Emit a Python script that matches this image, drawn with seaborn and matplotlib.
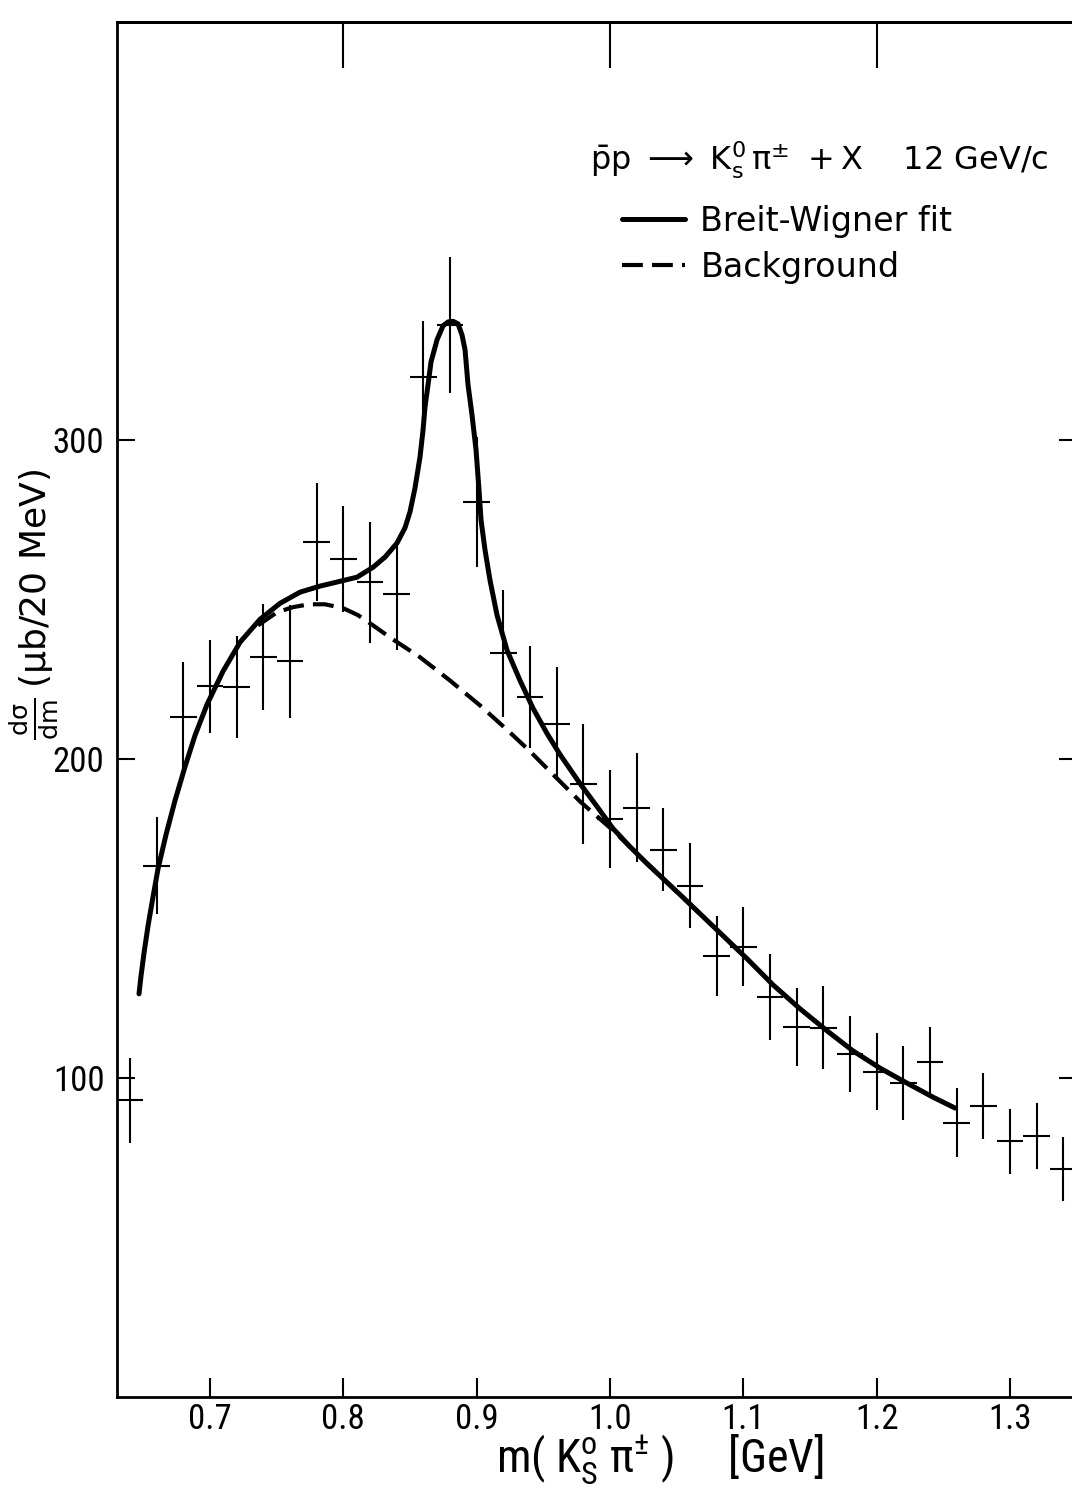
import numpy as np
import pandas as pd
import matplotlib
matplotlib.use("Agg")
import matplotlib.pyplot as plt
from matplotlib import font_manager as fm
import seaborn as sns

# ---------------- data ----------------
mass = [0.64, 0.66, 0.68, 0.70, 0.72, 0.74, 0.76, 0.78, 0.80, 0.82, 0.84, 0.86,
        0.88, 0.90, 0.92, 0.94, 0.96, 0.98, 1.00, 1.02, 1.04, 1.06, 1.08, 1.10,
        1.12, 1.14, 1.16, 1.18, 1.20, 1.22, 1.24, 1.26, 1.28, 1.30, 1.32, 1.34]
xsec = [93.0, 166.6, 213.3, 222.8, 222.5, 232.0, 230.6, 268.0, 262.6, 255.4, 251.6, 319.8,
        336.1, 280.5, 233.1, 219.3, 211.1, 192.3, 181.3, 184.8, 171.6, 160.3, 138.3, 141.1,
        125.4, 116.0, 115.7, 107.5, 102.0, 98.4, 105.0, 86.0, 91.2, 80.2, 81.8, 71.4]
xsec_err = [13.3, 15.2, 17.0, 14.5, 16.0, 16.5, 17.6, 18.6, 16.6, 19.0, 17.4, 17.6,
            21.4, 20.4, 20.0, 16.0, 17.6, 18.8, 15.4, 17.0, 13.0, 13.3, 12.6, 12.4,
            13.5, 12.2, 13.0, 12.0, 12.0, 11.6, 11.0, 10.8, 10.4, 10.2, 10.4, 10.0]
bin_half_width = 0.01

# Breit-Wigner fit curve
fit_m = [0.64675, 0.64825, 0.6505, 0.6535, 0.65725, 0.661, 0.667, 0.67375, 0.68125,
         0.68875, 0.69775, 0.70975, 0.7225, 0.7375, 0.7525, 0.7675, 0.7825, 0.7975,
         0.81025, 0.82225, 0.83125, 0.84025, 0.84625, 0.85, 0.85375, 0.8575, 0.85975,
         0.86125, 0.8635, 0.86575, 0.87025, 0.87475, 0.8785, 0.88225, 0.886, 0.889,
         0.89125, 0.8935, 0.8965, 0.8995, 0.90175, 0.90325, 0.90625, 0.91, 0.91525,
         0.92275, 0.9325, 0.94225, 0.95275, 0.9625, 0.9775, 0.99025, 1.00225, 1.015,
         1.02775, 1.03975, 1.0525, 1.0675, 1.0825, 1.10275, 1.12225, 1.1425, 1.16275,
         1.18225, 1.2025, 1.22275, 1.24225, 1.25875]
fit_y = [126.4, 132.0, 139.2, 147.7, 156.8, 165.6, 176.3, 187.0, 197.6,
         207.4, 217.1, 227.5, 236.6, 243.8, 248.8, 252.3, 254.2, 255.7,
         257.0, 260.1, 263.3, 267.7, 272.5, 277.5, 285.0, 294.7, 303.1,
         310.4, 317.3, 324.5, 331.4, 335.8, 337.0, 337.2, 336.4, 332.9,
         328.3, 317.3, 307.8, 296.9, 284.3, 274.9, 265.5, 256.0, 245.1,
         234.1, 224.6, 215.9, 208.0, 201.4, 192.3, 185.1, 178.2, 172.5,
         167.2, 162.5, 157.5, 151.5, 145.5, 137.4, 129.2, 121.7, 114.8,
         108.5, 103.1, 98.4, 94.0, 90.6]

# background curve
bg_m = [0.736, 0.75025, 0.76225, 0.77425, 0.78625, 0.79975, 0.811, 0.82225, 0.835,
        0.84625, 0.8575, 0.88, 0.9025, 0.925, 0.94, 0.955, 0.9775, 1.0015, 1.0225,
        1.03975, 1.0675]
bg_y = [241.9, 246.0, 247.6, 248.5, 248.5, 247.3, 245.1, 241.9, 238.1,
        235.0, 231.9, 224.6, 216.8, 208.3, 202.4, 196.1, 186.7, 177.9, 169.4,
        162.5, 151.5]

x_ticks = [0.7, 0.8, 0.9, 1.0, 1.1, 1.2, 1.3]
x_tick_labels = ["0.7", "0.8", "0.9", "1.0", "1.1", "1.2", "1.3"]
top_ticks = [0.8, 1.0, 1.2]
y_ticks = [100, 200, 300]
y_tick_labels = ["100", "200", "300"]

# ---------------- style ----------------
names = {f.name for f in fm.fontManager.ttflist}
narrow = next((n for n in ["Liberation Sans Narrow", "Roboto Condensed",
                           "Open Sans Condensed", "DejaVu Sans"] if n in names), "DejaVu Sans")

sns.set_theme(style="ticks")
plt.rcParams["font.family"] = ["DejaVu Sans"]
plt.rcParams["mathtext.fontset"] = "dejavusans"
plt.rcParams["mathtext.default"] = "regular"
plt.rcParams["text.color"] = "black"
plt.rcParams["axes.labelcolor"] = "black"
plt.rcParams["xtick.color"] = "black"
plt.rcParams["ytick.color"] = "black"

fig = plt.figure(figsize=(10.72, 14.91), dpi=100)
ax = fig.add_axes([0.1091, 0.0630, 0.8953, 0.9222])

fit_df = pd.DataFrame({"m": fit_m, "y": fit_y})
bg_df = pd.DataFrame({"m": bg_m, "y": bg_y})

sns.lineplot(data=fit_df, x="m", y="y", ax=ax, color="black", lw=3.6,
             sort=False, estimator=None, label="Breit-Wigner fit",
             solid_capstyle="round", solid_joinstyle="round")
sns.lineplot(data=bg_df, x="m", y="y", ax=ax, color="black", lw=3.0,
             sort=False, estimator=None, label="Background",
             linestyle=(0, (5.0, 2.2)))

ax.errorbar(mass, xsec, yerr=xsec_err, xerr=bin_half_width, fmt="none",
            ecolor="black", elinewidth=1.5, capsize=0)

ax.set_xlim(0.6302, 1.35)
ax.set_ylim(0, 431)

ax.set_xticks(x_ticks)
ax.set_xticklabels(x_tick_labels)
ax.set_yticks(y_ticks)
ax.set_yticklabels(y_tick_labels)
ax.tick_params(axis="x", direction="in", length=14, width=1.5, pad=4,
               labelsize=25, colors="black")
ax.tick_params(axis="y", direction="in", length=13, width=1.5, pad=9,
               labelsize=25, right=True, colors="black")
for lab in ax.get_xticklabels() + ax.get_yticklabels():
    lab.set_fontfamily(narrow)

secx = ax.secondary_xaxis("top")
secx.set_xticks(top_ticks)
secx.tick_params(direction="in", length=33, width=1.5, labeltop=False, colors="black")

for sp in ax.spines.values():
    sp.set_linewidth(2.0)
    sp.set_color("black")
for sp in secx.spines.values():
    sp.set_linewidth(2.0)
    sp.set_color("black")

ax.set_xlabel("")
ax.set_ylabel("")

# y-axis title: unit part and the d(sigma)/dm fraction
fig.text(36 / 1072, 1 - 578 / 1491, r"($\mu$b/20 MeV)", rotation=90,
         fontsize=26, ha="center", va="center", color="black")
fig.text(34 / 1072, 1 - 719 / 1491, r"$\frac{d\sigma}{dm}$", rotation=90,
         fontsize=26, ha="center", va="center", color="black")

fig.text(660 / 1072, 1 - 1460 / 1491,
         r"m( K$^{o}_{S}$ π$^{\pm}$ )     [GeV]",
         fontsize=33, fontfamily=narrow, ha="center", va="center", color="black")

fig.text(590 / 1072, 1 - 160 / 1491,
         r"$\bar{p}p\ \longrightarrow\ K^{0}_{s}\,\pi^{\pm}\ +X$    12 GeV/c",
         fontsize=23, ha="left", va="center", color="black")

leg = ax.legend(loc="upper left", bbox_to_anchor=(622 / 1072, 1 - 205 / 1491),
                bbox_transform=fig.transFigure, frameon=False, fontsize=24,
                handlelength=1.9, handletextpad=0.45, labelspacing=0.38,
                borderpad=0, borderaxespad=0)
for t in leg.get_texts():
    t.set_color("black")

fig.savefig("out.png", dpi=100, facecolor="white")
